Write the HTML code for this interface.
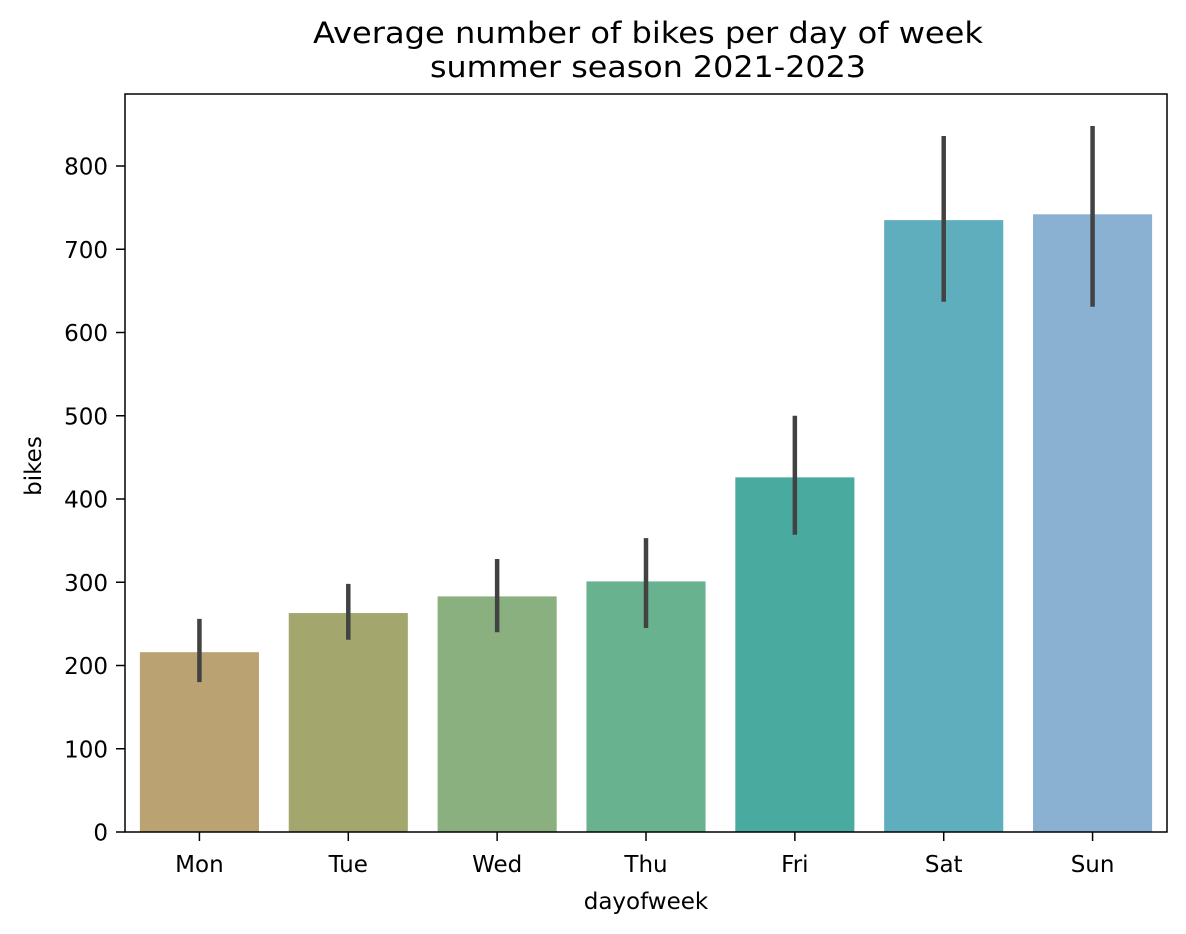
<!DOCTYPE html>
<html><head><meta charset="utf-8"><style>
body{margin:0;background:#fff}
svg{display:block;font-family:"DejaVu Sans","Liberation Sans",sans-serif}
</style></head><body>
<svg id="chart" width="1186" height="934">
<text x="648" y="43" font-size="29" text-anchor="middle" textLength="670" lengthAdjust="spacingAndGlyphs">Average number of bikes per day of week</text>
<text x="648" y="77" font-size="29" text-anchor="middle" textLength="436" lengthAdjust="spacingAndGlyphs">summer season 2021-2023</text>
<g id="plot"></g>
<rect x="125" y="94" width="1042" height="738" fill="none" stroke="#000" stroke-width="1.5"/>
<text x="646" y="909" font-size="23" text-anchor="middle">dayofweek</text>
<text transform="translate(41,466) rotate(-90)" font-size="23" text-anchor="middle">bikes</text>
</svg>
<script>
const categories=["Mon","Tue","Wed","Thu","Fri","Sat","Sun"];
const values=[216,263,283,301,426,735,742];
const errLow=[180,231,240,245,357,637,631];
const errHigh=[256,298,328,353,500,836,848];
const colors=["#baa273","#a3a66d","#89b07e","#69b290","#49aba0","#5eaebe","#8ab0d2"];
const yTicks=[0,100,200,300,400,500,600,700,800];
const L=125,R=1167,T=94,B=832,YMAX=886.5;
const y=v=>B-(v/YMAX)*(B-T);
const step=(R-L)/categories.length;
const x=i=>L+step*(i+0.5);
const g=document.getElementById('plot');
const NS="http://www.w3.org/2000/svg";
function mk(t,a){const e=document.createElementNS(NS,t);for(const k in a)e.setAttribute(k,a[k]);g.appendChild(e);return e;}
categories.forEach((c,i)=>{
  const bw=step*0.8;
  const r=mk('rect',{x:x(i)-bw/2,y:y(values[i]),width:bw,height:B-y(values[i]),fill:colors[i]});
  
  
  const e=mk('line',{x1:x(i),x2:x(i),y1:y(errLow[i]),y2:y(errHigh[i]),stroke:'#424242','stroke-width':4.5});
  
  
  const tk=mk('line',{x1:x(i),x2:x(i),y1:B,y2:B+9,stroke:'#000','stroke-width':1.5});
  
  
  const t=mk('text',{x:x(i),y:872,'font-size':23,'text-anchor':'middle'});
  t.textContent=c;
  
  
});
yTicks.forEach(v=>{
  const tk=mk('line',{x1:L-9,x2:L,y1:y(v),y2:y(v),stroke:'#000','stroke-width':1.5});
  
  
  const t=mk('text',{x:L-17,y:y(v)+8.5,'font-size':23,'text-anchor':'end'});
  t.textContent=v;
  
  
});
</script>
</body></html>
